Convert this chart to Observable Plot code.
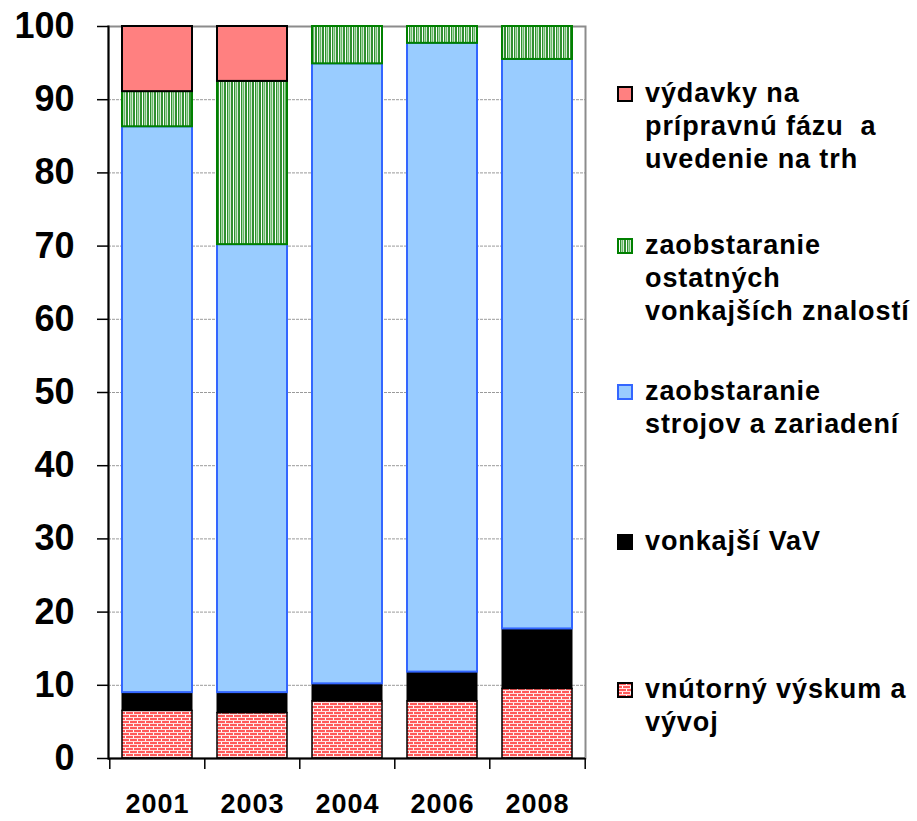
<!DOCTYPE html>
<html><head><meta charset="utf-8">
<script src="https://cdn.jsdelivr.net/npm/d3@7"></script>
<script src="https://cdn.jsdelivr.net/npm/@observablehq/plot@0.6"></script>
<style>
body{margin:0;background:#fff;}
#wrap{position:relative;width:917px;height:821px;font-family:"Liberation Sans",Arial,sans-serif;overflow:hidden;}
.leg{position:absolute;left:645px;font-weight:bold;font-size:27px;line-height:33px;letter-spacing:0.9px;white-space:pre;color:#000;}
.sw{position:absolute;left:617px;}
</style></head><body>
<svg width="0" height="0" style="position:absolute">
  <defs>
    <pattern id="brick" width="8" height="6" patternUnits="userSpaceOnUse">
      <rect width="8" height="6" fill="#ff5a5a"/>
      <rect x="0" y="0" width="8" height="1" fill="#ffe0e0"/>
      <rect x="0" y="3" width="8" height="1" fill="#ffe0e0"/>
      <rect x="1" y="1" width="1" height="2" fill="#fff"/>
      <rect x="5" y="4" width="1" height="2" fill="#fff"/>
    </pattern>
    <pattern id="stripes" width="7" height="4" patternUnits="userSpaceOnUse">
      <rect width="7" height="4" fill="#2f8f2f"/>
      <rect x="2" y="0" width="1" height="4" fill="#fff"/>
      <rect x="4" y="0" width="1.5" height="4" fill="#a8dca8"/>
      <rect x="6" y="0" width="0.8" height="4" fill="#fff"/>
    </pattern>
  </defs>
</svg>
<div id="wrap"></div>
<script>
// ---- data ----
const years = ["2001", "2003", "2004", "2006", "2008"];
const internalRD     = [6.5, 6.2, 7.8, 7.8, 9.5];   // vnútorný výskum a vývoj
const externalRD     = [2.5, 2.8, 2.4, 4.0, 8.2];   // vonkajší VaV
const machinery      = [77.3, 61.2, 84.7, 85.9, 77.8]; // zaobstaranie strojov a zariadení
const otherKnowledge = [4.8, 22.3, 5.1, 2.3, 4.5];  // zaobstaranie ostatných vonkajších znalostí
const marketIntro    = [8.9, 7.5, 0, 0, 0];         // výdavky na prípravnú fázu a uvedenie na trh
const yTicks = [0, 10, 20, 30, 40, 50, 60, 70, 80, 90, 100];
const legendLabels = [
  "výdavky na\nprípravnú fázu  a\nuvedenie na trh",
  "zaobstaranie\nostatných\nvonkajších znalostí",
  "zaobstaranie\nstrojov a zariadení",
  "vonkajší VaV",
  "vnútorný výskum a\nvývoj"
];

// ---- styling (bottom to top of the stack) ----
const stackOrder = [internalRD, externalRD, machinery, otherKnowledge, marketIntro];
const styles = [
  {fill: "url(#brick)", stroke: "#000", strokeWidth: 1.5},
  {fill: "#000", stroke: "#000", strokeWidth: 1},
  {fill: "#99ccff", stroke: "#3366ff", strokeWidth: 2},
  {fill: "url(#stripes)", stroke: "#008000", strokeWidth: 2},
  {fill: "#ff8080", stroke: "#000", strokeWidth: 2}
];

const rows = [];
years.forEach((yr, i) => {
  let base = 0;
  stackOrder.forEach((arr, k) => {
    const v = arr[i];
    rows.push({year: yr, s: k, v, y1: base, y2: base + v});
    base += v;
  });
});

const font = '"Liberation Sans", Arial, sans-serif';
const step = (917 - 108 - 332) / years.length;

const barMarks = styles.map((st, k) =>
  Plot.barY(rows.filter(r => r.s === k && r.v > 0), {
    x: "year", y1: "y1", y2: "y2",
    fill: st.fill, stroke: st.stroke, strokeWidth: st.strokeWidth
  })
);

const chart = Plot.plot({
  width: 917, height: 821,
  marginLeft: 108, marginRight: 332, marginTop: 26, marginBottom: 63,
  style: {fontFamily: font, background: "transparent", color: "#000"},
  x: {domain: years, paddingInner: 0.265, paddingOuter: 0.1325, label: null},
  y: {domain: [0, 100], label: null},
  marks: [
    Plot.gridY(yTicks.filter(v => v > 0 && v < 100), {stroke: "#9a9a9a", strokeOpacity: 1, strokeDasharray: "3,1"}),
    Plot.frame({stroke: "#8c8c8c", strokeWidth: 2}),
    ...barMarks,
    Plot.ruleY([0], {stroke: "#000", strokeWidth: 2}),
    Plot.frame({anchor: "left", stroke: "#000", strokeWidth: 2}),
    Plot.axisY({ticks: yTicks, tickSize: 11, tickPadding: 23, fontSize: 36, fontWeight: "bold", label: null, stroke: "#000", strokeWidth: 1.5}),
    Plot.axisX({tickSize: 11, dx: -step / 2, tickFormat: () => "", label: null, strokeWidth: 1.5}),
    Plot.axisX({ticks: [years[years.length - 1]], tickSize: 11, dx: step / 2, tickFormat: () => "", label: null, strokeWidth: 1.5}),
    Plot.axisX({tickSize: 0, tickPadding: 35, fontSize: 27, fontWeight: "bold", label: null})
  ]
});

const wrap = document.getElementById("wrap");
wrap.appendChild(chart);
d3.select(chart).selectAll('g[aria-label="x-axis tick label"] text').style("letter-spacing", "1px");
d3.select(chart).style("position", "absolute").style("left", "0px").style("top", "0px");

// ---- legend (top to bottom = top to bottom of stack) ----
const legendTops = [77, 229, 375, 525, 673];
const legendStyles = [styles[4], styles[3], styles[2], styles[1], styles[0]];
legendLabels.forEach((lab, j) => {
  const d = document.createElement("div");
  d.className = "leg";
  d.style.top = legendTops[j] + "px";
  d.textContent = lab;
  wrap.appendChild(d);
  const st = legendStyles[j];
  const ns = "http://www.w3.org/2000/svg";
  const s = document.createElementNS(ns, "svg");
  s.setAttribute("class", "sw");
  s.setAttribute("width", 16);
  s.setAttribute("height", 16);
  s.style.top = (legendTops[j] + 16.5 - 8) + "px";
  const r = document.createElementNS(ns, "rect");
  r.setAttribute("x", 1); r.setAttribute("y", 1);
  r.setAttribute("width", 14); r.setAttribute("height", 14);
  r.setAttribute("fill", st.fill);
  r.setAttribute("stroke", st.stroke);
  r.setAttribute("stroke-width", 2);
  s.appendChild(r);
  wrap.appendChild(s);
});
</script>
</body></html>
